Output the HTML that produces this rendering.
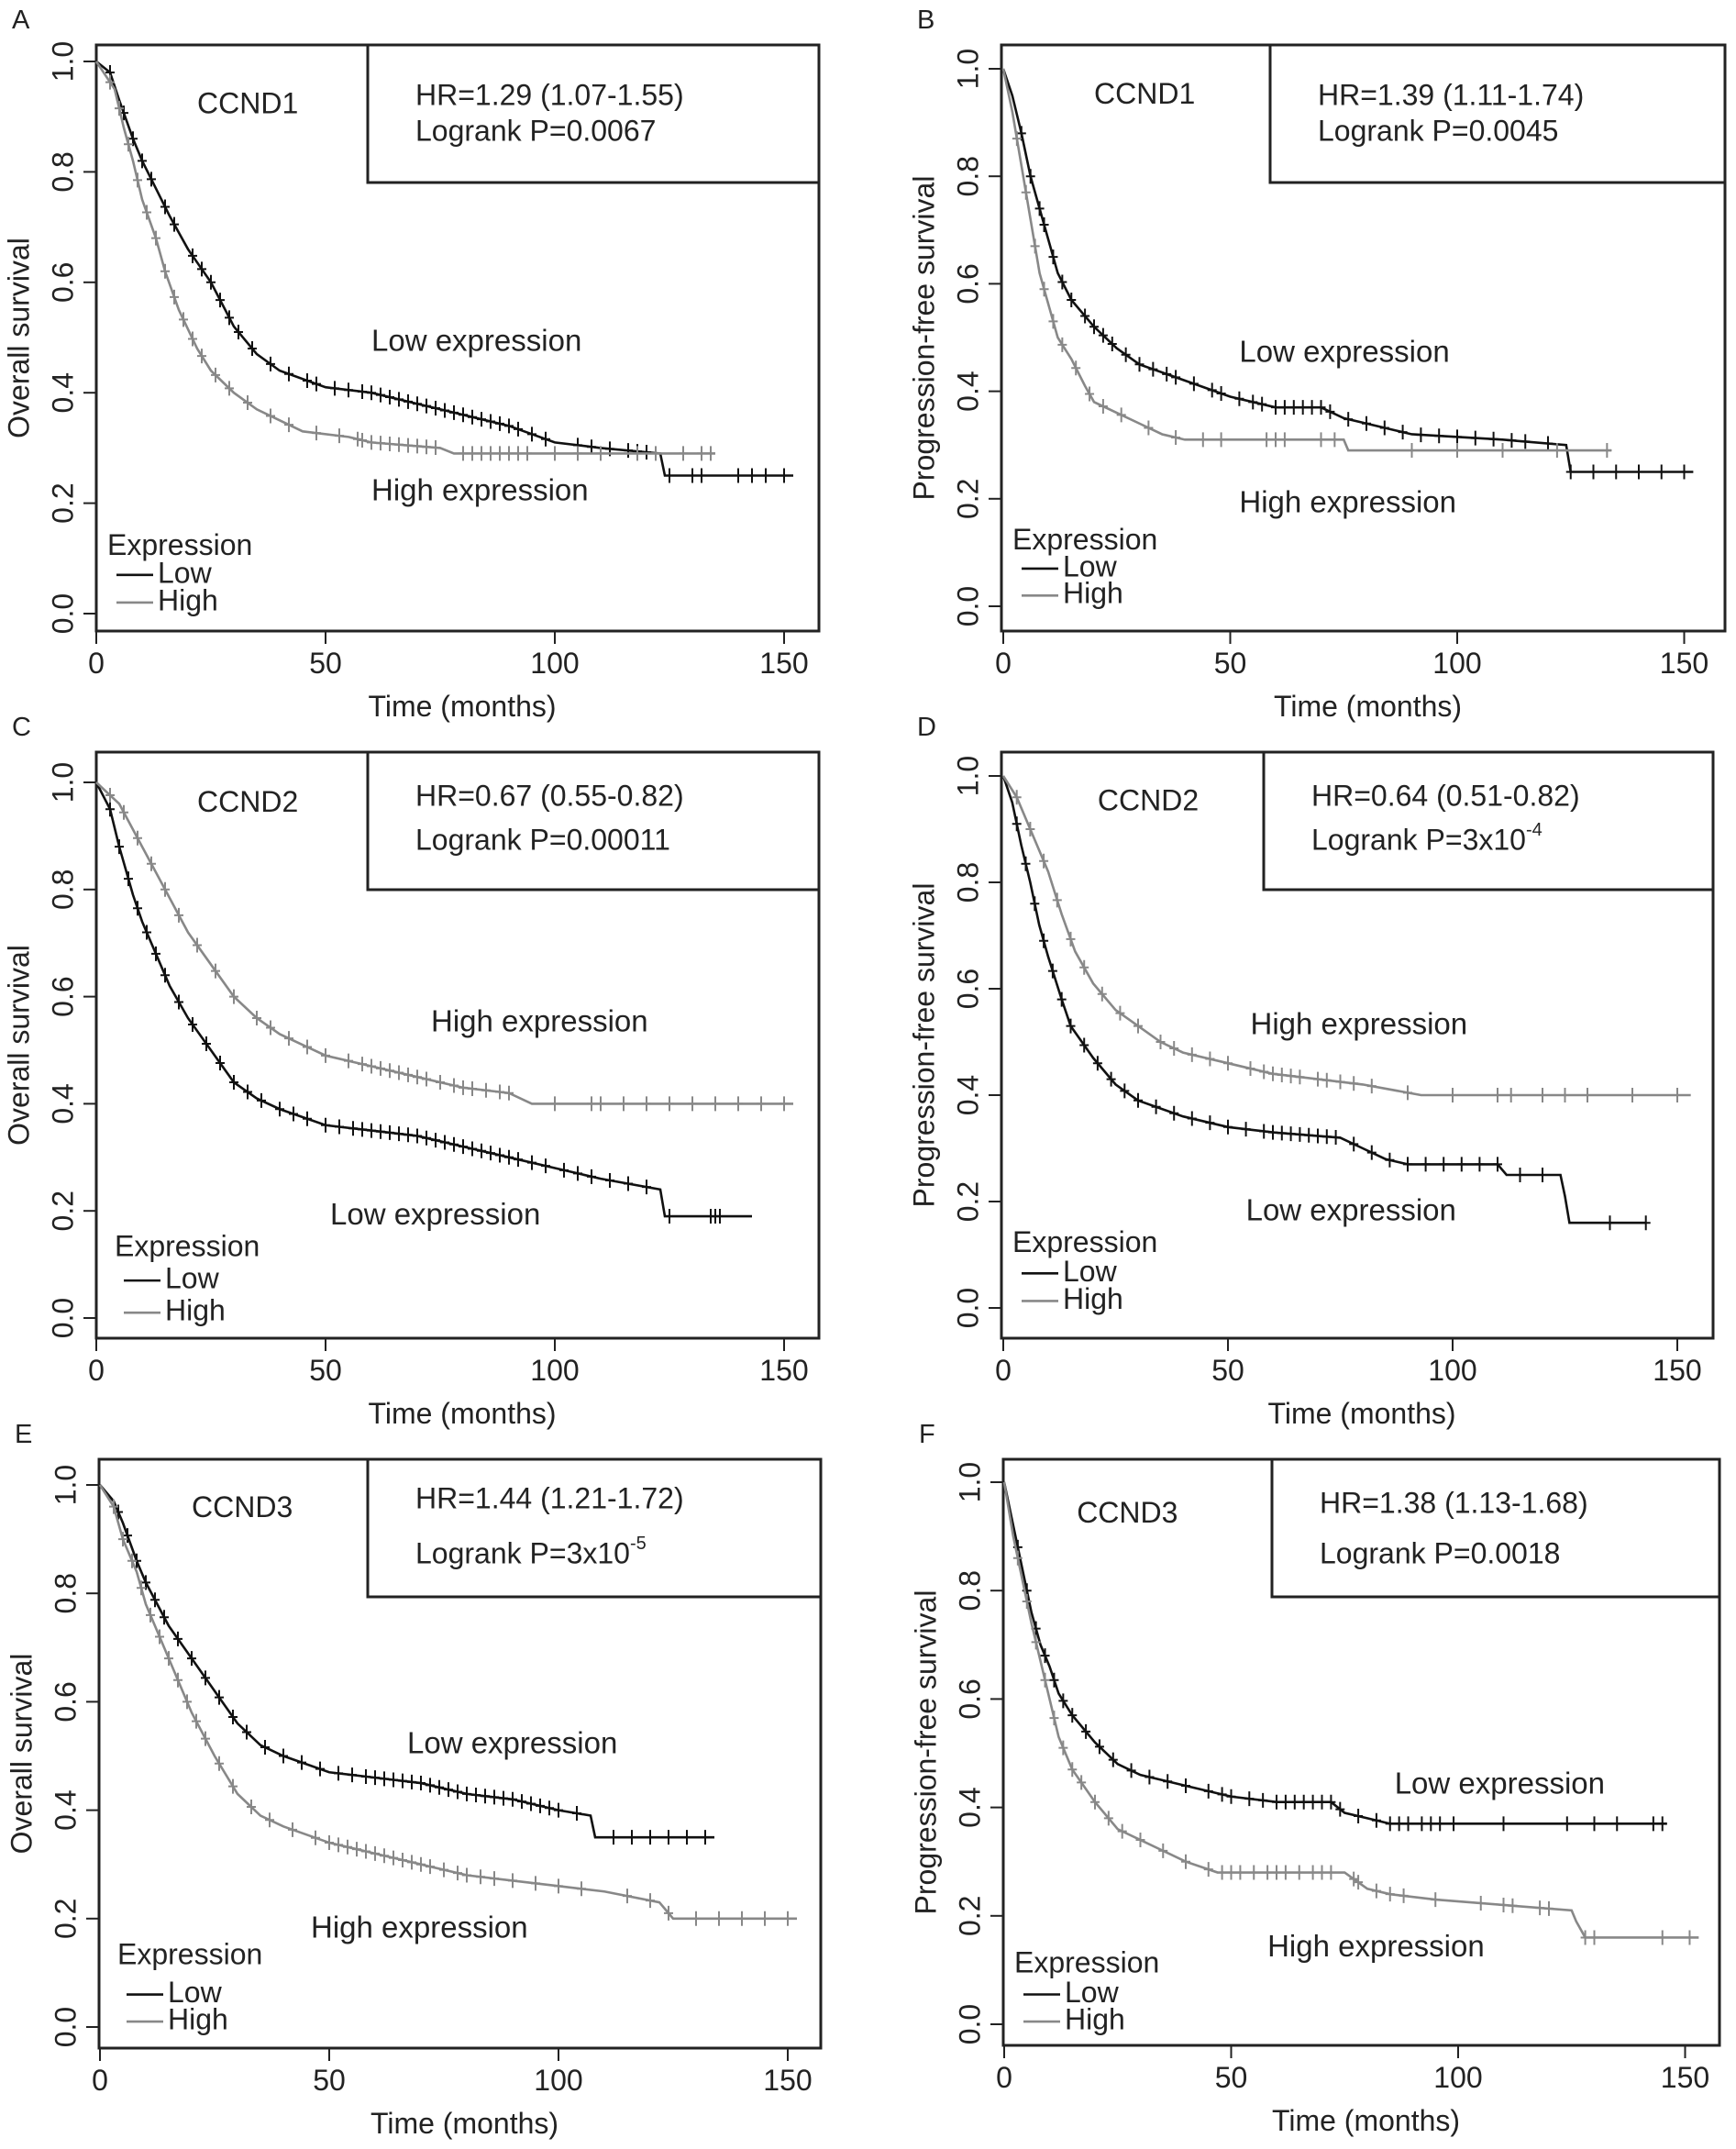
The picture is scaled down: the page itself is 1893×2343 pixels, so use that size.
<!DOCTYPE html>
<html><head><meta charset="utf-8">
<style>
html,body{margin:0;padding:0;background:#fff;}
svg{display:block;font-family:"Liberation Sans",Arial,sans-serif;}
</style></head>
<body>
<svg id="fig" width="1893" height="2343" viewBox="0 0 1893 2343" xmlns="http://www.w3.org/2000/svg"></svg>
<script>
// ---- data ----
const panelLetters = ["A","B","C","D","E","F"];
const geneNames = ["CCND1","CCND1","CCND2","CCND2","CCND3","CCND3"];
const yTitles = ["Overall survival","Progression-free survival","Overall survival","Progression-free survival","Overall survival","Progression-free survival"];
const hrTexts = ["HR=1.29 (1.07-1.55)","HR=1.39 (1.11-1.74)","HR=0.67 (0.55-0.82)","HR=0.64 (0.51-0.82)","HR=1.44 (1.21-1.72)","HR=1.38 (1.13-1.68)"];
const pBase = ["Logrank P=0.0067","Logrank P=0.0045","Logrank P=0.00011","Logrank P=3x10","Logrank P=3x10","Logrank P=0.0018"];
const pSup = ["","","","-4","-5",""];
const xTicks = [0,50,100,150];
const yTicks = [0,0.2,0.4,0.6,0.8,1.0];
const yTickLabels = ["0.0","0.2","0.4","0.6","0.8","1.0"];

const lowTimes = [
 [0,3,5,8,10,13,16,20,25,30,35,40,50,60,70,80,90,100,110,123,124,152],
 [0,2,4,6,8,10,12,15,20,25,30,40,50,60,70,75,80,90,110,124,125,152],
 [0,3,5,8,10,13,16,20,25,30,35,40,50,60,70,80,90,100,110,123,124,143],
 [0,2,4,6,8,10,13,15,20,25,30,40,50,60,75,80,85,90,110,112,124,125,126,143],
 [0,3,5,8,10,15,20,25,30,35,40,50,60,70,80,90,100,107,108,134],
 [0,2,4,6,8,10,12,15,20,25,30,40,50,60,72,75,80,85,146]];
const lowSurv = [
 [1,0.98,0.93,0.86,0.82,0.77,0.72,0.66,0.6,0.52,0.47,0.44,0.41,0.4,0.38,0.36,0.34,0.31,0.3,0.29,0.25,0.25],
 [1,0.95,0.88,0.8,0.74,0.68,0.62,0.57,0.52,0.48,0.45,0.42,0.39,0.37,0.37,0.35,0.34,0.32,0.31,0.3,0.25,0.25],
 [1,0.95,0.88,0.79,0.74,0.68,0.62,0.56,0.5,0.44,0.41,0.39,0.36,0.35,0.34,0.32,0.3,0.28,0.26,0.24,0.19,0.19],
 [1,0.95,0.87,0.8,0.72,0.66,0.58,0.53,0.47,0.42,0.39,0.36,0.34,0.33,0.32,0.3,0.28,0.27,0.27,0.25,0.25,0.21,0.16,0.16],
 [1,0.97,0.93,0.86,0.82,0.74,0.68,0.62,0.56,0.52,0.5,0.47,0.46,0.45,0.43,0.42,0.4,0.39,0.35,0.35],
 [1,0.92,0.84,0.76,0.7,0.66,0.61,0.57,0.52,0.48,0.46,0.44,0.42,0.41,0.41,0.39,0.38,0.37,0.37]];
const highTimes = [
 [0,4,6,8,10,13,15,18,22,25,30,35,40,45,55,60,75,78,135],
 [0,2,4,6,8,10,12,15,18,20,25,30,35,40,75,76,134],
 [0,5,10,15,20,25,30,35,40,45,50,60,70,80,90,95,152],
 [0,3,6,10,13,16,20,25,30,35,40,50,60,70,80,93,153],
 [0,3,5,8,10,15,20,25,30,35,40,50,60,70,80,90,100,110,122,124,125,152],
 [0,2,4,6,8,10,12,15,20,25,30,35,40,47,75,80,85,95,125,126,128,153]];
const highSurv = [
 [1,0.95,0.88,0.82,0.75,0.68,0.62,0.55,0.48,0.44,0.4,0.37,0.35,0.33,0.32,0.31,0.3,0.29,0.29],
 [1,0.92,0.82,0.72,0.62,0.56,0.5,0.46,0.41,0.38,0.36,0.34,0.32,0.31,0.31,0.29,0.29],
 [1,0.96,0.88,0.8,0.72,0.66,0.6,0.56,0.53,0.51,0.49,0.47,0.45,0.43,0.42,0.4,0.4],
 [1,0.96,0.9,0.82,0.74,0.67,0.61,0.56,0.53,0.5,0.48,0.46,0.44,0.43,0.42,0.4,0.4],
 [1,0.96,0.9,0.84,0.78,0.68,0.58,0.5,0.43,0.39,0.37,0.34,0.32,0.3,0.28,0.27,0.26,0.25,0.23,0.21,0.2,0.2],
 [1,0.9,0.82,0.74,0.67,0.6,0.53,0.47,0.41,0.36,0.34,0.32,0.3,0.28,0.28,0.25,0.24,0.23,0.21,0.19,0.16,0.16]];
const lowCensor = [
 [3,6,8,10,12,15,17,21,23,25,27,29,31,34,38,42,46,48,52,55,58,60,62,64,66,68,70,72,74,76,78,80,82,84,86,88,90,92,95,98,105,108,112,116,118,120,125,130,132,140,143,146,150],
 [4,6,8,9,11,13,15,18,20,22,24,27,30,33,36,38,42,46,48,52,55,57,60,62,64,66,68,70,72,76,80,84,88,92,96,100,104,108,112,115,120,125,130,135,140,145,150],
 [3,5,7,9,11,13,15,18,21,24,27,30,33,36,40,43,46,50,53,56,58,60,62,64,66,68,70,72,74,76,78,80,82,84,86,88,90,92,95,98,102,105,108,112,116,120,125,134,135,136],
 [3,5,7,9,11,13,15,18,21,24,27,30,34,38,42,46,50,54,58,60,62,64,66,68,70,72,74,78,82,86,90,94,98,102,106,110,115,120,135,143],
 [4,6,8,10,12,14,17,20,23,26,29,32,36,40,44,48,52,55,58,60,62,64,66,68,70,72,74,76,78,80,82,84,86,88,90,92,94,96,98,100,104,112,116,120,124,128,132],
 [3,5,7,9,11,13,15,18,21,24,28,32,36,40,45,48,50,54,57,60,62,64,66,68,70,72,74,78,82,85,87,89,92,94,96,99,110,124,130,135,143,145]];
const highCensor = [
 [3,5,7,9,11,13,15,17,19,21,23,26,29,33,38,42,48,53,57,58,60,62,64,66,68,70,72,74,80,82,84,86,88,90,92,94,100,105,110,118,122,128,132,134],
 [3,5,7,9,11,13,16,19,22,26,32,38,44,48,58,60,62,70,73,90,100,110,122,133],
 [3,6,9,12,15,18,22,26,30,35,38,42,46,50,55,58,60,62,64,66,68,70,72,75,78,80,82,85,88,90,100,108,110,115,120,125,130,135,140,145,150],
 [3,6,9,12,15,18,22,26,30,35,38,42,46,50,55,58,60,62,64,66,70,72,75,78,82,90,100,110,113,120,125,130,140,150],
 [3,5,7,9,11,13,15,17,19,21,23,26,29,33,37,42,47,50,52,54,56,58,60,62,64,66,68,70,72,75,78,80,83,86,90,95,100,105,115,120,124,130,135,140,145,150],
 [3,5,7,9,11,13,15,17,20,23,26,30,35,40,45,48,50,52,55,58,60,62,65,68,70,72,77,78,82,85,88,95,105,110,112,118,120,128,130,145,151]];
// label anchors in data coords [t, s]
const lowLabelPos = [[60,0.49],[52,0.47],[51,0.19],[54,0.18],[67,0.52],[86,0.44]];
const highLabelPos = [[60,0.22],[52,0.19],[73,0.55],[55,0.53],[46,0.18],[58,0.14]];
const genePos = [[22,0.92],[20,0.95],[22,0.96],[21,0.95],[20,0.955],[16,0.94]];
const legendY = [[0.12,0.07,0.02],[0.12,0.07,0.02],[0.13,0.07,0.01],[0.12,0.065,0.013],[0.13,0.06,0.01],[0.11,0.055,0.005]];

// ---- layout (pixels) ----
const geo = [
 {L:105,T:49,R:893,B:688,x0:105,xs:5.0,y1:67,y0:669},
 {L:1092,T:49,R:1881,B:688,x0:1094,xs:4.95,y1:75,y0:661},
 {L:105,T:820,R:893,B:1459,x0:105,xs:5.0,y1:853,y0:1437},
 {L:1092,T:820,R:1868,B:1459,x0:1094,xs:4.9,y1:846,y0:1426},
 {L:108,T:1591,R:895,B:2233,x0:109,xs:5.0,y1:1619,y0:2210},
 {L:1094,T:1591,R:1875,B:2230,x0:1095,xs:4.95,y1:1616,y0:2207}];
const hrOff=[[298,57,96],[295,57,96],[298,50,98],[288,50,98],[295,45,105],[295,50,105]];

const NS="http://www.w3.org/2000/svg";
const svg=document.getElementById('fig');
function mk(tag,attrs,parent){const e=document.createElementNS(NS,tag);for(const k in attrs)e.setAttribute(k,attrs[k]);(parent||svg).appendChild(e);return e;}
function txt(s,attrs,parent){const e=mk('text',attrs,parent);e.textContent=s;return e;}
function valAt(ts,ss,t){for(let i=1;i<ts.length;i++){if(t<=ts[i]){const f=(t-ts[i-1])/(ts[i]-ts[i-1]||1);return ss[i-1]+(ss[i]-ss[i-1])*f;}}return ss[ss.length-1];}

for(let p=0;p<6;p++){
  const g=geo[p];
  const X=t=>g.x0+t*g.xs;
  const Y=s=>g.y0-(g.y0-g.y1)*s;
  const grp=mk('g',{});
  
  
  const letter=txt(panelLetters[p],{x:g.L-92,y:g.T-18,'font-size':29,fill:'#222'},grp);
  
  
  const box=mk('rect',{x:g.L,y:g.T,width:g.R-g.L,height:g.B-g.T,fill:'none',stroke:'#222','stroke-width':3},grp);
  
  
  for(let i=0;i<yTicks.length;i++){
    const y=Y(yTicks[i]);
    mk('line',{x1:g.L-14,x2:g.L,y1:y,y2:y,stroke:'#222','stroke-width':2},grp);
    const t=txt(yTickLabels[i],{x:g.L-34,y:y,'font-size':32,fill:'#222','text-anchor':'middle',transform:`rotate(-90 ${g.L-34} ${y})`,'dominant-baseline':'middle'},grp);
    
    
  }
  for(let i=0;i<xTicks.length;i++){
    const x=X(xTicks[i]);
    mk('line',{x1:x,x2:x,y1:g.B,y2:g.B+14,stroke:'#222','stroke-width':2},grp);
    const t=txt(String(xTicks[i]),{x:x,y:g.B+46,'font-size':32,fill:'#222','text-anchor':'middle'},grp);
    
    
  }
  const xt=txt('Time (months)',{x:(g.L+g.R)/2+5,y:g.B+93,'font-size':32,fill:'#222','text-anchor':'middle'},grp);
  
  
  const ym=(g.T+g.B)/2, yx=g.L-82;
  const yt=txt(yTitles[p],{x:yx,y:ym,'font-size':32,fill:'#222','text-anchor':'middle','dominant-baseline':'middle',transform:`rotate(-90 ${yx} ${ym})`},grp);
  
  
  const ho=hrOff[p];
  const hb=mk('rect',{x:g.L+ho[0]-2,y:g.T,width:g.R-g.L-ho[0]+2,height:150,fill:'#fff',stroke:'#222','stroke-width':3},grp);
  
  
  const h1=txt(hrTexts[p],{x:g.L+ho[0]+50,y:g.T+ho[1],'font-size':32,fill:'#222','dominant-baseline':'middle'},grp);
  
  
  const h2=txt(pBase[p],{x:g.L+ho[0]+50,y:g.T+ho[2],'font-size':32,fill:'#222','dominant-baseline':'middle'},grp);
  
  
  if(pSup[p]){const ts=mk('tspan',{'font-size':20,dy:-12},h2);ts.textContent=pSup[p];}
  const series=[[lowTimes[p],lowSurv[p],lowCensor[p],'#111','low'],[highTimes[p],highSurv[p],highCensor[p],'#888','high']];
  for(const [ts,ss,cs,col,nm] of series){
    let d=`M${X(ts[0])},${Y(ss[0])}`;
    for(let i=1;i<ts.length;i++){d+=` L${X(ts[i])},${Y(ss[i])}`;}
    const path=mk('path',{d:d,fill:'none',stroke:col,'stroke-width':2.6},grp);
    
    
    for(const c of cs){
      if(c>ts[ts.length-1])continue;
      const s=valAt(ts,ss,c);
      const m=mk('path',{d:`M${X(c)},${Y(s)-8} V${Y(s)+8} M${X(c)-5},${Y(s)} H${X(c)+5}`,stroke:col,'stroke-width':2,fill:'none'},grp);
      
      
    }
  }
  const gn=txt(geneNames[p],{x:X(genePos[p][0]),y:Y(genePos[p][1]),'font-size':32,fill:'#222','dominant-baseline':'middle'},grp);
  
  
  const ll=txt('Low expression',{x:X(lowLabelPos[p][0]),y:Y(lowLabelPos[p][1]),'font-size':33,fill:'#222','dominant-baseline':'middle'},grp);
  
  
  const hl=txt('High expression',{x:X(highLabelPos[p][0]),y:Y(highLabelPos[p][1]),'font-size':33,fill:'#222','dominant-baseline':'middle'},grp);
  
  
  const lg=mk('g',{},grp);
  
  
  const lx=g.L+(p===2||p===4?20:12);
  txt('Expression',{x:lx,y:Y(legendY[p][0]),'font-size':32,fill:'#222','dominant-baseline':'middle'},lg);
  mk('line',{x1:lx+10,x2:lx+50,y1:Y(legendY[p][1]),y2:Y(legendY[p][1]),stroke:'#111','stroke-width':2.6},lg);
  const le1=txt('Low',{x:lx+55,y:Y(legendY[p][1]),'font-size':32,fill:'#222','dominant-baseline':'middle'},lg);
  
  
  mk('line',{x1:lx+10,x2:lx+50,y1:Y(legendY[p][2]),y2:Y(legendY[p][2]),stroke:'#888','stroke-width':2.6},lg);
  const le2=txt('High',{x:lx+55,y:Y(legendY[p][2]),'font-size':32,fill:'#222','dominant-baseline':'middle'},lg);
  
  
}
</script>
</body></html>
